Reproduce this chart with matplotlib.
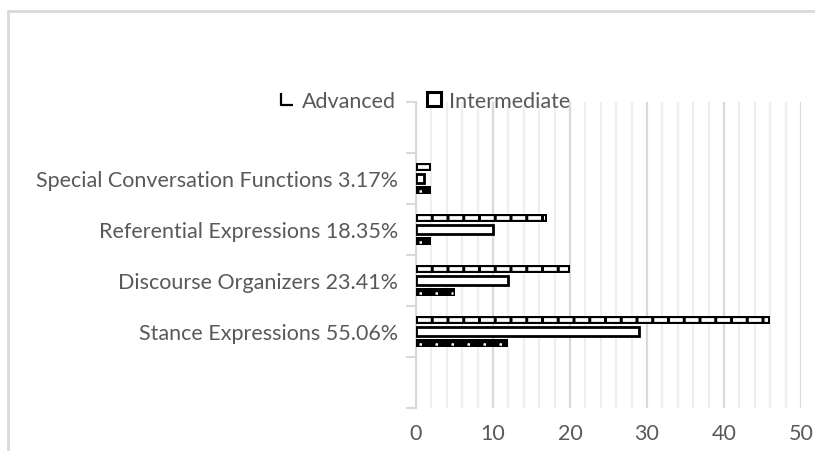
import numpy as np
import matplotlib
matplotlib.use("Agg")
import matplotlib.pyplot as plt
from matplotlib.lines import Line2D
from matplotlib.path import Path
from matplotlib.patches import Rectangle

categories = [
    "Special Conversation Functions 3.17%",
    "Referential Expressions 18.35%",
    "Discourse Organizers 23.41%",
    "Stance Expressions 55.06%",
]
advanced = [2, 17, 20, 46]
intermediate = [1, 10, 12, 29]
beginner = [2, 2, 5, 12]
x_ticks = [0, 10, 20, 30, 40, 50]

TEXT = "#595959"
GRID_MAJOR = "#d9d9d9"
GRID_MINOR = "#efefef"
FONT = "Lato"
FS = 15.5

W, H = 815, 452
fig = plt.figure(figsize=(W / 100, H / 100), dpi=100)
ax = fig.add_axes([416 / W, (H - 409) / H, (801 - 416) / W, (409 - 103) / H])

pos = np.arange(1, len(categories) + 1)
bh = 0.17
off = 0.225

# Advanced: black outlined bar with a white dashed core
ax.barh(pos - off, advanced, height=bh, color="black", edgecolor="black",
        linewidth=0, zorder=3)
ax.hlines(pos - off, 0.3, np.array(advanced) - 0.3, colors="white",
          linewidth=2.7, linestyles=(0, (3.4, 0.8)), zorder=4)

# Intermediate: hollow bar
ax.barh(pos, intermediate, height=bh, color="white", edgecolor="black",
        linewidth=2.0, zorder=3)

# Beginner: solid black bar with a row of white dots
ax.barh(pos + off, beginner, height=bh, color="black", edgecolor="black",
        linewidth=0, zorder=3)
ax.hlines(pos + off + 0.02, 0.4, np.array(beginner) - 0.2, colors="white",
          linewidth=1.8, linestyles=(0, (1.0, 5.4)), zorder=4)

ax.set_xlim(0, 50)
ax.set_ylim(len(categories) + 1.5, -0.5)

ax.set_xticks(x_ticks)
ax.set_xticks(np.arange(0, 51, 2), minor=True)
ax.xaxis.grid(True, which="major", color=GRID_MAJOR, linewidth=1.6, zorder=0)
ax.xaxis.grid(True, which="minor", color=GRID_MINOR, linewidth=1.6, zorder=0)
ax.tick_params(axis="x", which="both", length=0, labelsize=FS, labelcolor=TEXT, pad=11)

ax.set_yticks(pos)
ax.set_yticklabels(categories)
ax.set_yticks(np.arange(-0.5, len(categories) + 2), minor=True)
ax.tick_params(axis="y", which="major", length=0, labelsize=FS, labelcolor=TEXT, pad=13)
ax.tick_params(axis="y", which="minor", length=7, width=1.5, color=GRID_MAJOR)

for lab in ax.get_xticklabels() + ax.get_yticklabels():
    lab.set_fontfamily(FONT)

for side in ("top", "right", "bottom"):
    ax.spines[side].set_visible(False)
ax.spines["left"].set_color(GRID_MAJOR)
ax.spines["left"].set_linewidth(1.5)

# Legend
l_marker = Path([(-0.5, 0.5), (-0.5, -0.5), (0.5, -0.5)],
                [Path.MOVETO, Path.LINETO, Path.LINETO])
handles = [
    Line2D([], [], marker=l_marker, linestyle="none", markersize=9,
           markeredgecolor="black", markerfacecolor="none", markeredgewidth=1.6),
    Line2D([], [], marker="s", linestyle="none", markersize=10,
           markeredgecolor="black", markerfacecolor="white", markeredgewidth=2.2),
]
fig.legend(handles, ["Advanced", "Intermediate"], loc="center",
           bbox_to_anchor=(425 / W, (H - 102) / H), ncol=2, frameon=False,
           prop={"family": FONT, "size": FS}, labelcolor=TEXT,
           handlelength=0.7, handletextpad=0.35, columnspacing=1.4)

# Outer chart frame
fig.patches.append(Rectangle((8 / W, -0.05), 1.0, (H - 12) / H + 0.05,
                             transform=fig.transFigure, fill=False,
                             edgecolor=GRID_MAJOR, linewidth=2.0))

fig.savefig("out.png", dpi=100)
